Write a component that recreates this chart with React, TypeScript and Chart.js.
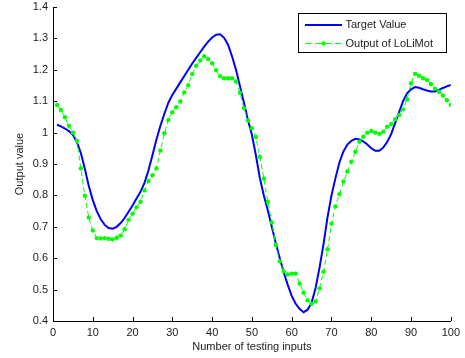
import React, { useEffect, useRef } from "react";
import { Chart, registerables } from "chart.js";

Chart.register(...registerables);

const xTickValues = [0, 10, 20, 30, 40, 50, 60, 70, 80, 90, 100];
const yTickValues = [0.4, 0.5, 0.6, 0.7, 0.8, 0.9, 1.0, 1.1, 1.2, 1.3, 1.4];

const seriesNames = ["Target Value", "Output of LoLiMot"];

// Samples 1..100
const targetValue = [
  1.025, 1.02, 1.013, 1.005, 0.993, 0.97, 0.935, 0.885, 0.83, 0.785,
  0.75, 0.724, 0.706, 0.696, 0.694, 0.7, 0.712, 0.728, 0.748, 0.768,
  0.79, 0.812, 0.84, 0.88, 0.928, 0.978, 1.022, 1.06, 1.095, 1.12,
  1.14, 1.16, 1.18, 1.2, 1.22, 1.238, 1.256, 1.274, 1.29, 1.303,
  1.312, 1.313, 1.302, 1.28, 1.243, 1.2, 1.148, 1.095, 1.04, 0.993,
  0.928, 0.855, 0.8, 0.752, 0.7, 0.648, 0.6, 0.555, 0.515, 0.48,
  0.455, 0.438, 0.428, 0.436, 0.458, 0.505, 0.57, 0.645, 0.73, 0.8,
  0.855, 0.905, 0.94, 0.962, 0.974, 0.98, 0.978, 0.972, 0.962, 0.95,
  0.942, 0.942, 0.952, 0.97, 0.995, 1.03, 1.065, 1.1, 1.125, 1.138,
  1.145, 1.143, 1.138, 1.134, 1.131, 1.131, 1.136, 1.142, 1.147, 1.152,
];

const lolimotOutput = [
  1.088, 1.072, 1.049, 1.022, 1.0, 0.974, 0.886, 0.799, 0.73, 0.688,
  0.664, 0.663, 0.664, 0.662, 0.66, 0.665, 0.672, 0.692, 0.722, 0.742,
  0.762, 0.78, 0.816, 0.846, 0.864, 0.886, 0.943, 0.998, 1.04, 1.065,
  1.081, 1.099, 1.128, 1.151, 1.187, 1.213, 1.23, 1.243, 1.234, 1.221,
  1.199, 1.18, 1.173, 1.173, 1.173, 1.163, 1.127, 1.078, 1.039, 1.014,
  0.986, 0.923, 0.854, 0.78, 0.714, 0.643, 0.59, 0.558, 0.548, 0.551,
  0.551, 0.519, 0.49, 0.466, 0.455, 0.462, 0.504, 0.557, 0.628, 0.71,
  0.765, 0.804, 0.844, 0.876, 0.907, 0.939, 0.971, 0.987, 1.0, 1.005,
  1.0, 0.996, 1.003, 1.019, 1.027, 1.043, 1.056, 1.074, 1.106, 1.157,
  1.187, 1.181, 1.173, 1.168, 1.155, 1.14, 1.13, 1.118, 1.103, 1.088,
];

const FONT = "'Liberation Sans', Arial, Helvetica, sans-serif";
const TEXT = "#222222";
const BLUE = "#0000ff";
const GREEN = "#00ff00";

const inwardTicks = {
  id: "inwardTicks",
  afterDatasetsDraw(chart: any) {
    const { ctx, chartArea: a, scales } = chart;
    ctx.save();
    ctx.strokeStyle = "#000";
    ctx.lineWidth = 1;
    ctx.beginPath();
    for (const t of scales.x.ticks) {
      const px = Math.round(scales.x.getPixelForValue(t.value)) + 0.5;
      ctx.moveTo(px, a.bottom);
      ctx.lineTo(px, a.bottom - 4);
    }
    for (const t of scales.y.ticks) {
      const py = Math.round(scales.y.getPixelForValue(t.value)) + 0.5;
      ctx.moveTo(a.left, py);
      ctx.lineTo(a.left + 4, py);
    }
    ctx.stroke();
    ctx.restore();
  },
};

const boxLegend = {
  id: "boxLegend",
  afterDraw(chart: any) {
    const { ctx, chartArea: a } = chart;
    const bx = Math.round(a.right - 153) + 0.5;
    const by = Math.round(a.top + 5.5) + 0.5;
    const bw = 148;
    const bh = 39;
    ctx.save();
    ctx.fillStyle = "#fff";
    ctx.fillRect(bx, by, bw, bh);
    ctx.strokeStyle = "#000";
    ctx.lineWidth = 1;
    ctx.strokeRect(bx, by, bw, bh);
    const x0 = bx + 6.5;
    const x1 = bx + 43.5;
    const y1 = by + 11.5;
    const y2 = Math.round(by + 29) + 0.5;
    ctx.strokeStyle = BLUE;
    ctx.lineWidth = 2;
    ctx.beginPath();
    ctx.moveTo(x0, y1);
    ctx.lineTo(x1, y1);
    ctx.stroke();
    ctx.strokeStyle = GREEN;
    ctx.lineWidth = 1;
    ctx.setLineDash([6, 4]);
    ctx.beginPath();
    ctx.moveTo(x0, y2);
    ctx.lineTo(x1, y2);
    ctx.stroke();
    ctx.setLineDash([]);
    ctx.fillStyle = GREEN;
    ctx.beginPath();
    ctx.arc((x0 + x1) / 2, y2, 2.2, 0, Math.PI * 2);
    ctx.fill();
    ctx.fillStyle = TEXT;
    ctx.font = `11px ${FONT}`;
    ctx.textBaseline = "middle";
    ctx.textAlign = "left";
    ctx.fillText(seriesNames[0], x1 + 3.5, y1);
    ctx.fillText(seriesNames[1], x1 + 3.5, y2);
    ctx.restore();
  },
};

export default function App() {
  const ref = useRef<HTMLCanvasElement | null>(null);

  useEffect(() => {
    if (!ref.current) return;
    const chart = new Chart(ref.current, {
      type: "line",
      data: {
        datasets: [
          {
            label: seriesNames[0],
            data: targetValue.map((v, i) => ({ x: i + 1, y: v })),
            borderColor: BLUE,
            backgroundColor: BLUE,
            borderWidth: 2,
            pointRadius: 0,
            tension: 0,
            order: 1,
          },
          {
            label: seriesNames[1],
            data: lolimotOutput.map((v, i) => ({ x: i + 1, y: v })),
            borderColor: GREEN,
            backgroundColor: GREEN,
            borderWidth: 1,
            borderDash: [5, 3],
            pointRadius: 2.2,
            pointBorderWidth: 0,
            pointBackgroundColor: GREEN,
            tension: 0,
            order: 0,
          },
        ],
      },
      options: {
        animation: false,
        responsive: false,
        devicePixelRatio: 1,
        layout: { padding: { left: 0, right: 13, top: 0, bottom: 0 } },
        plugins: {
          legend: { display: false },
          tooltip: { enabled: false },
        },
        scales: {
          x: {
            type: "linear",
            min: 0,
            max: 100,
            afterBuildTicks: (s: any) => {
              s.ticks = xTickValues.map((v) => ({ value: v }));
            },
            afterFit: (s: any) => {
              s.height = 37;
            },
            grid: { display: false, drawTicks: false },
            border: { display: true, color: "#000", width: 1 },
            ticks: {
              color: TEXT,
              font: { family: FONT, size: 11 },
              padding: 5,
              maxRotation: 0,
              autoSkip: false,
              callback: (v: any) => String(v),
            },
            title: {
              display: true,
              text: "Number of testing inputs",
              color: TEXT,
              font: { family: FONT, size: 11 },
              padding: { top: 0, bottom: 4 },
            },
          },
          y: {
            type: "linear",
            min: 0.4,
            max: 1.4,
            afterBuildTicks: (s: any) => {
              s.ticks = yTickValues.map((v) => ({ value: v }));
            },
            afterFit: (s: any) => {
              s.width = 53;
              s.paddingTop = 7;
              s.paddingBottom = 0;
            },
            grid: { display: false, drawTicks: false },
            border: { display: true, color: "#000", width: 1 },
            ticks: {
              color: TEXT,
              font: { family: FONT, size: 11 },
              padding: 5,
              autoSkip: false,
              callback: (v: any) => String(Number(Number(v).toFixed(1))),
            },
            title: {
              display: true,
              text: "Output value",
              color: TEXT,
              font: { family: FONT, size: 11 },
              padding: { top: 13, bottom: 0 },
            },
          },
        },
      },
      plugins: [inwardTicks, boxLegend],
    } as any);
    return () => chart.destroy();
  }, []);

  return (
    <div style={{ position: "absolute", left: 0, top: 0, width: 465, height: 358, background: "#fff" }}>
      <canvas ref={ref} width={465} height={358} style={{ display: "block" }} />
    </div>
  );
}
